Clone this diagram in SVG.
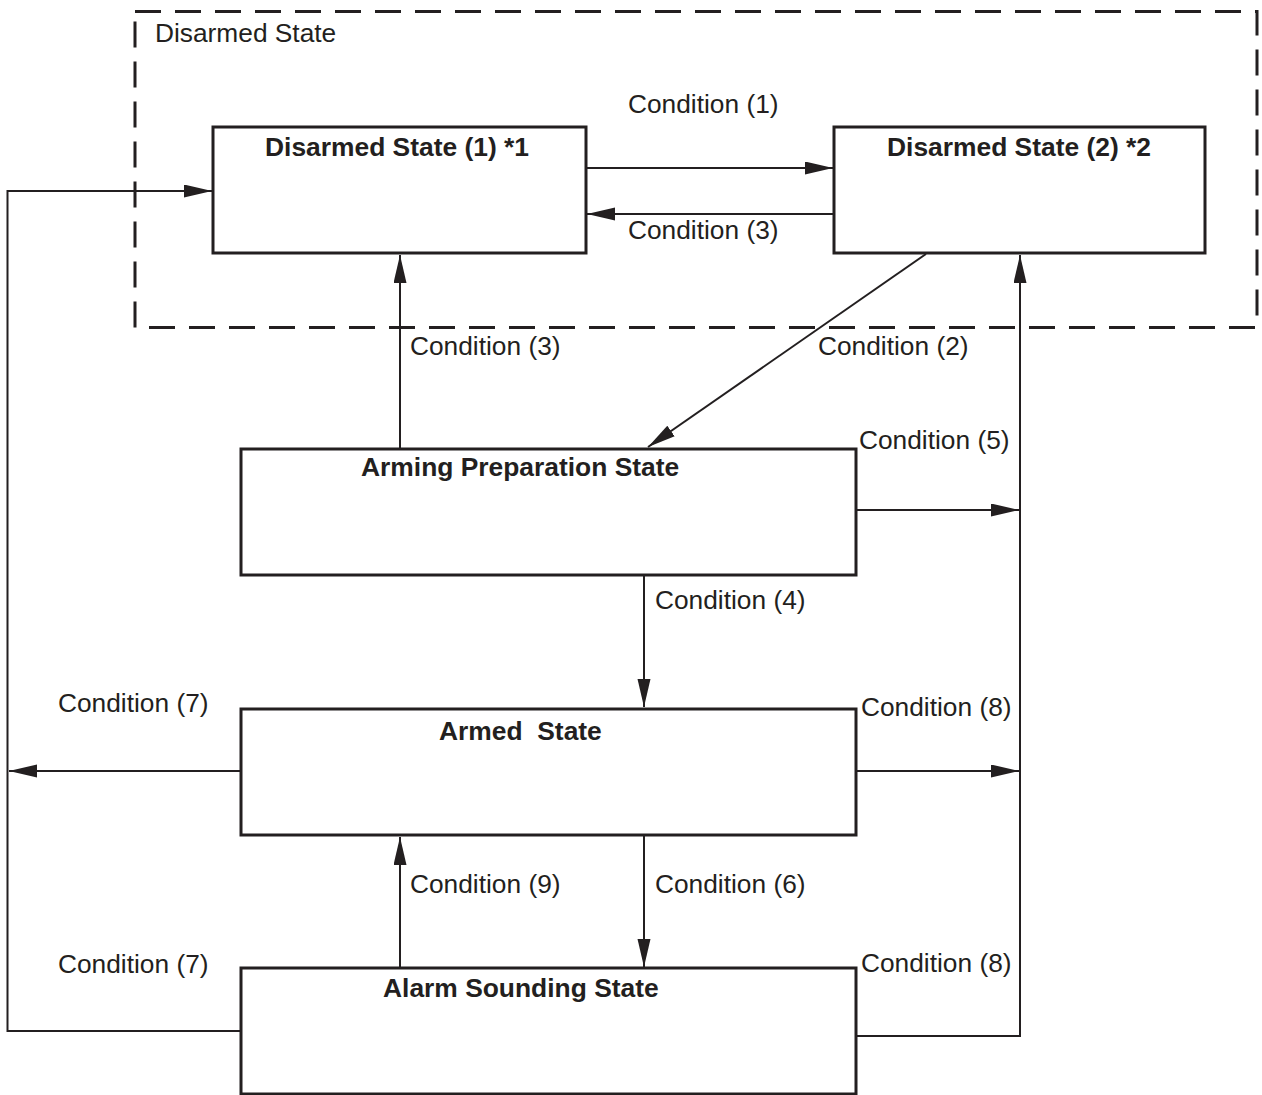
<svg xmlns="http://www.w3.org/2000/svg" width="1262" height="1095" viewBox="0 0 1262 1095">
<style>
.node rect{fill:#fff;stroke:#231f20;stroke-width:3}
.t{font-family:"Liberation Sans",Arial,sans-serif;font-size:26.3px;fill:#231f20}
.b{font-family:"Liberation Sans",Arial,sans-serif;font-size:26.4px;font-weight:bold;fill:#231f20}
.c{fill:none;stroke:#231f20;stroke-width:2}
</style>
<defs>
<marker id="ah" markerUnits="userSpaceOnUse" markerWidth="30" markerHeight="14" refX="28" refY="6.5" orient="auto">
<polygon points="0,0 28,6.5 0,13" fill="#231f20"/>
</marker>
</defs>
<rect width="1262" height="1095" fill="#fff"/>
<g id="group-disarmed">
<rect x="135" y="11.5" width="1122" height="316" fill="none" stroke="#231f20" stroke-width="3" stroke-dasharray="26 14"/>
<text class="t" x="155" y="42">Disarmed State</text>
</g>
<g id="connectors">
<line class="c" x1="586" y1="168" x2="833" y2="168" marker-end="url(#ah)"/>
<line class="c" x1="834" y1="214" x2="587" y2="214" marker-end="url(#ah)"/>
<polyline class="c" points="241,1031 7.5,1031 7.5,191 212,191" marker-end="url(#ah)"/>
<line class="c" x1="400" y1="449" x2="400" y2="255" marker-end="url(#ah)"/>
<line class="c" x1="926" y1="254" x2="648" y2="447" marker-end="url(#ah)"/>
<polyline class="c" points="856,1036 1020,1036 1020,255" marker-end="url(#ah)"/>
<line class="c" x1="856" y1="510" x2="1019" y2="510" marker-end="url(#ah)"/>
<line class="c" x1="644" y1="575" x2="644" y2="707" marker-end="url(#ah)"/>
<line class="c" x1="241" y1="771" x2="9" y2="771" marker-end="url(#ah)"/>
<line class="c" x1="856" y1="771" x2="1019" y2="771" marker-end="url(#ah)"/>
<line class="c" x1="644" y1="835" x2="644" y2="967" marker-end="url(#ah)"/>
<line class="c" x1="400" y1="968" x2="400" y2="837" marker-end="url(#ah)"/>
<text class="t" x="628" y="113">Condition (1)</text>
<text class="t" x="628" y="239">Condition (3)</text>
<text class="t" x="410" y="355">Condition (3)</text>
<text class="t" x="818" y="355">Condition (2)</text>
<text class="t" x="859" y="449">Condition (5)</text>
<text class="t" x="655" y="609">Condition (4)</text>
<text class="t" x="58" y="712">Condition (7)</text>
<text class="t" x="861" y="716">Condition (8)</text>
<text class="t" x="410" y="893">Condition (9)</text>
<text class="t" x="655" y="893">Condition (6)</text>
<text class="t" x="58" y="973">Condition (7)</text>
<text class="t" x="861" y="972">Condition (8)</text>
</g>
<g id="node-disarmed1" class="node">
<rect x="213" y="127" width="373" height="126"/>
<text class="b" x="265" y="156">Disarmed State (1) *1</text>
</g>
<g id="node-disarmed2" class="node">
<rect x="834" y="127" width="371" height="126"/>
<text class="b" x="887" y="156">Disarmed State (2) *2</text>
</g>
<g id="node-arming" class="node">
<rect x="241" y="449" width="615" height="126"/>
<text class="b" x="361" y="476">Arming Preparation State</text>
</g>
<g id="node-armed" class="node">
<rect x="241" y="709" width="615" height="126"/>
<text class="b" x="439" y="740" xml:space="preserve">Armed  State</text>
</g>
<g id="node-alarm" class="node">
<rect x="241" y="968" width="615" height="126"/>
<text class="b" x="383" y="997">Alarm Sounding State</text>
</g>
</svg>
